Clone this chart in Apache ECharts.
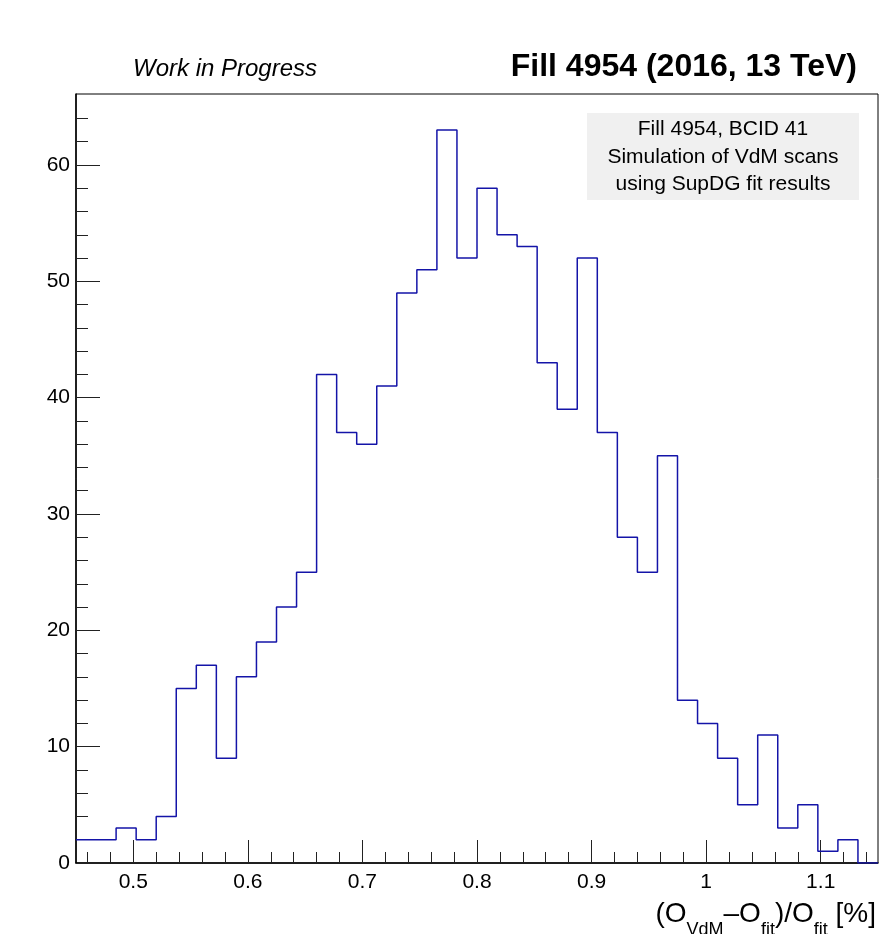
<!DOCTYPE html>
<html>
<head>
<meta charset="utf-8">
<script src="https://cdn.jsdelivr.net/npm/echarts@6/dist/echarts.min.js"></script>
<style>
  html, body { margin: 0; padding: 0; background: #fff; }
  #chart { width: 885px; height: 934px; }
</style>
</head>
<body>
<div id="chart"></div>
<script>
// histogram definition: 40 bins from 0.45 to 1.15
const binLow = 0.45;
const binHigh = 1.15;
const binWidth = 0.0175;
const counts = [
  2, 2, 3, 2, 4, 15, 17, 9, 16, 19,
  22, 25, 42, 37, 36, 41, 49, 51, 63, 52,
  58, 54, 53, 43, 39, 52, 37, 28, 25, 35,
  14, 12, 9, 5, 11, 3, 5, 1, 2, 0
];

// axis ticks
const xMajorTicks = [0.5, 0.6, 0.7, 0.8, 0.9, 1.0, 1.1];
const xMinorTicks = [0.46, 0.48, 0.52, 0.54, 0.56, 0.58, 0.62, 0.64, 0.66, 0.68,
  0.72, 0.74, 0.76, 0.78, 0.82, 0.84, 0.86, 0.88, 0.92, 0.94, 0.96, 0.98,
  1.02, 1.04, 1.06, 1.08, 1.12, 1.14];
const yMajorTicks = [0, 10, 20, 30, 40, 50, 60];
const yMinorTicks = [2, 4, 6, 8, 12, 14, 16, 18, 22, 24, 26, 28, 32, 34, 36, 38,
  42, 44, 46, 48, 52, 54, 56, 58, 62, 64];
const yMax = 66.1;

const legendLines = ['Fill 4954, BCID 41', 'Simulation of VdM scans', 'using SupDG fit results'];

// step outline points: left edge of every bin + closing edge
const histPoints = counts.map((c, i) => [binLow + i * binWidth, c]);
histPoints.push([binHigh, counts[counts.length - 1]]);

const font = 'Liberation Sans, Arial, Helvetica, sans-serif';

const chart = echarts.init(document.getElementById('chart'));

const option = {
  animation: false,
  backgroundColor: '#fff',
  title: [
    {
      text: 'Work in Progress',
      left: 128, top: 52,
      textStyle: { fontFamily: font, fontSize: 24, fontStyle: 'italic', fontWeight: 'normal', color: '#000' }
    },
    {
      text: 'Fill 4954 (2016, 13 TeV)',
      right: 23, top: 46,
      textStyle: { fontFamily: font, fontSize: 32, fontWeight: 'bold', color: '#000' }
    }
  ],
  grid: {
    left: 76, right: 7, top: 94, bottom: 71,
    show: true, borderColor: '#000', borderWidth: 1, backgroundColor: 'transparent'
  },
  xAxis: [
    {
      type: 'value', min: binLow, max: binHigh,
      axisLine: { show: true, onZero: false, lineStyle: { color: '#000', width: 1.5 } },
      axisTick: { inside: true, length: 23, customValues: xMajorTicks, lineStyle: { color: '#222', width: 1 } },
      axisLabel: {
        customValues: xMajorTicks, margin: 9,
        fontFamily: font, fontSize: 21, color: '#000',
        formatter: v => String(Math.round(v * 10) / 10)
      },
      splitLine: { show: false }
    },
    {
      type: 'value', min: binLow, max: binHigh, position: 'bottom',
      axisLine: { show: false },
      axisTick: { inside: true, length: 11, customValues: xMinorTicks, lineStyle: { color: '#222', width: 1 } },
      axisLabel: { show: false },
      splitLine: { show: false }
    }
  ],
  yAxis: [
    {
      type: 'value', min: 0, max: yMax,
      axisLine: { show: true, onZero: false, lineStyle: { color: '#000', width: 1.5 } },
      axisTick: { inside: true, length: 24, customValues: yMajorTicks, lineStyle: { color: '#222', width: 1 } },
      axisLabel: { customValues: yMajorTicks, margin: 6, fontFamily: font, fontSize: 21, color: '#000' },
      splitLine: { show: false }
    },
    {
      type: 'value', min: 0, max: yMax, position: 'left',
      axisLine: { show: false },
      axisTick: { inside: true, length: 12, customValues: yMinorTicks, lineStyle: { color: '#222', width: 1 } },
      axisLabel: { show: false },
      splitLine: { show: false }
    }
  ],
  series: [
    {
      type: 'line',
      xAxisIndex: 0, yAxisIndex: 0,
      step: 'end',
      data: histPoints,
      showSymbol: false,
      symbol: 'none',
      clip: true,
      lineStyle: { color: '#1414a8', width: 1.5 }
    }
  ],
  graphic: [
    {
      type: 'rect', z: 10,
      shape: { x: 587, y: 113, width: 272, height: 87 },
      style: { fill: '#f0f0f0' }
    },
    {
      type: 'text', z: 11,
      x: 723, y: 157,
      style: {
        text: legendLines.join('\n'),
        fontFamily: font, fontSize: 21, lineHeight: 27.5,
        fill: '#000', align: 'center', verticalAlign: 'middle'
      }
    },
    {
      type: 'text', z: 11,
      x: 876, y: 900,
      style: {
        text: '{m|(O}{s|VdM}{m|\u2013O}{s|fit}{m|)/O}{s|fit}{m| [%]}',
        align: 'right', verticalAlign: 'top',
        fill: '#000',
        rich: {
          m: { fontFamily: font, fontSize: 28, lineHeight: 30, verticalAlign: 'top', fill: '#000' },
          s: { fontFamily: font, fontSize: 18, lineHeight: 18, padding: [21, 0, 0, 0], verticalAlign: 'top', fill: '#000' }
        }
      }
    }
  ]
};

chart.setOption(option);
</script>
</body>
</html>
